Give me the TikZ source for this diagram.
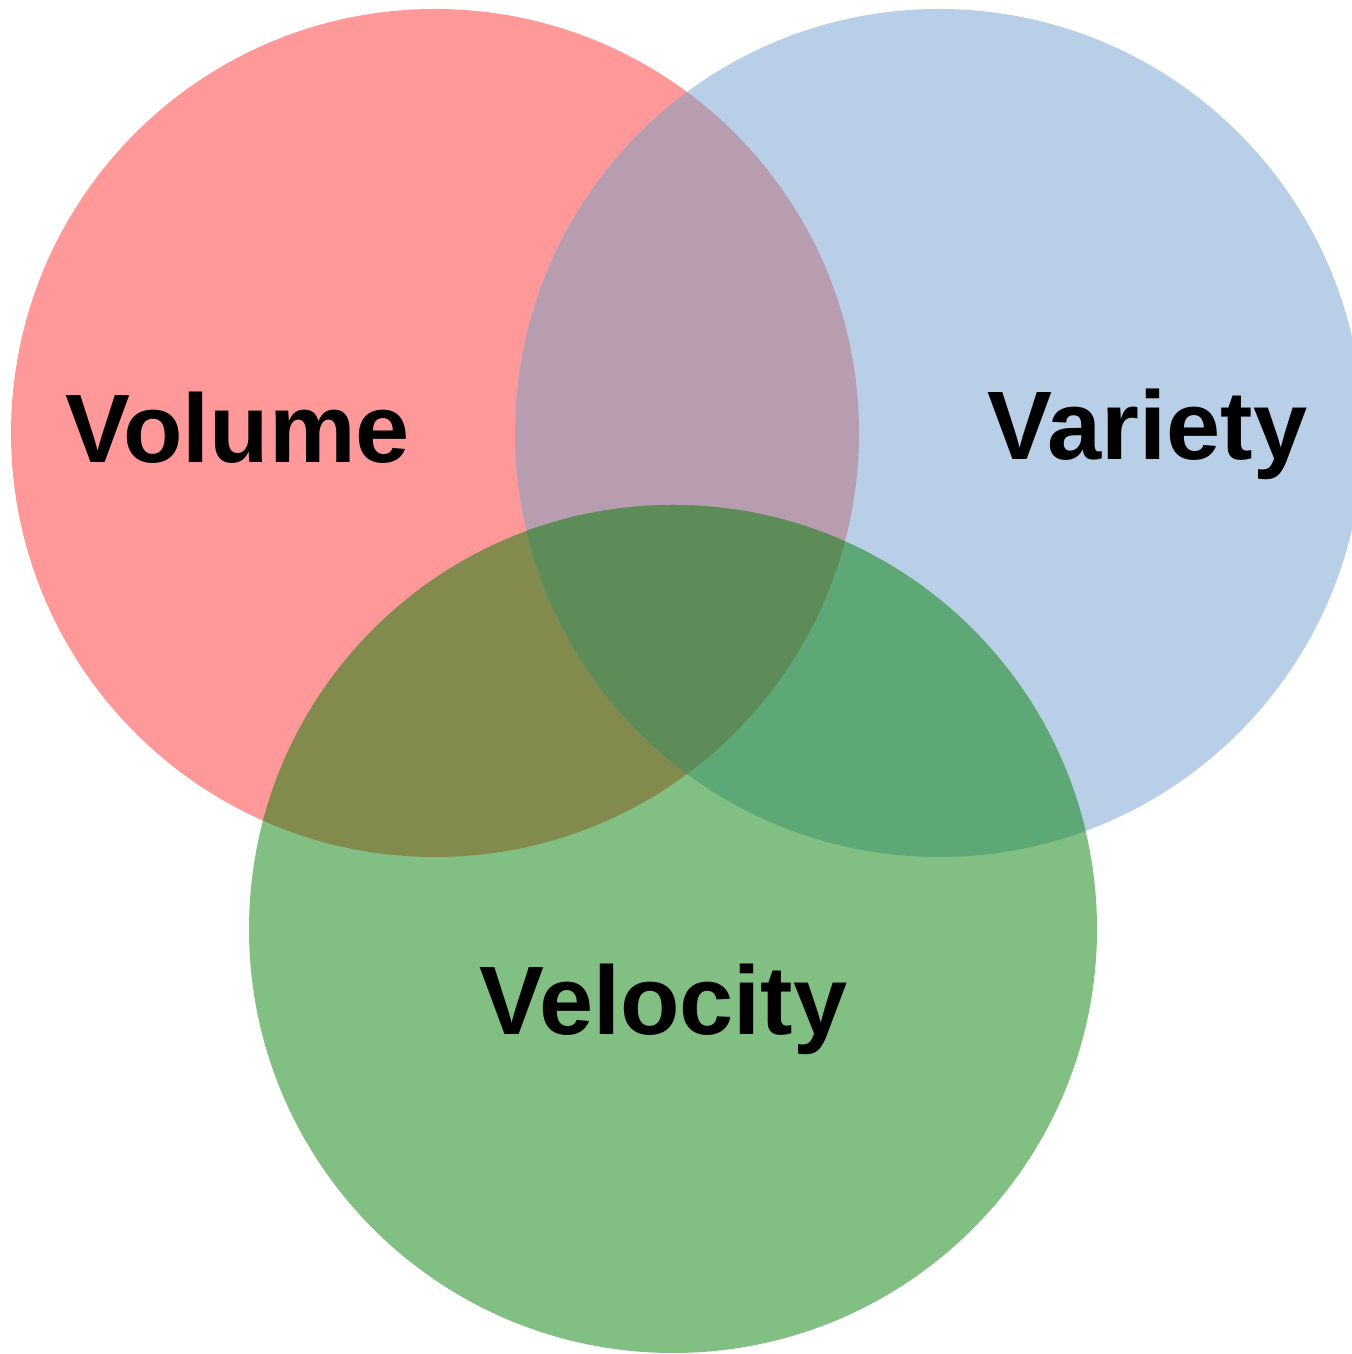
\documentclass[tikz,border=0pt]{standalone}
\usepackage{fontspec}
\setmainfont{Liberation Sans}
\definecolor{cR}{HTML}{FF9999}
\definecolor{cB}{HTML}{B8CFE7}
\definecolor{cG}{HTML}{82BF82}
\definecolor{cRB}{HTML}{B89CB0}
\definecolor{cRG}{HTML}{828A4E}
\definecolor{cBG}{HTML}{5EA877}
\definecolor{cRBG}{HTML}{5E8C58}
\tikzset{
  lbl/.style={anchor=base, font=\fontsize{27.7pt}{30pt}\selectfont\bfseries, text=black, inner sep=0pt}
}
\begin{document}
\begin{tikzpicture}
\useasboundingbox (0,0) rectangle (13.51,13.54);
\coordinate (R) at (4.35,9.21);
\coordinate (B) at (9.39,9.21);
\coordinate (G) at (6.73,4.25);
\def\rad{4.24}
% single regions
\fill[cR] (R) circle (\rad);
\fill[cB] (B) circle (\rad);
\fill[cG] (G) circle (\rad);
% pairwise
\begin{scope}
  \clip (R) circle (\rad);
  \fill[cRB] (B) circle (\rad);
\end{scope}
\begin{scope}
  \clip (R) circle (\rad);
  \fill[cRG] (G) circle (\rad);
\end{scope}
\begin{scope}
  \clip (B) circle (\rad);
  \fill[cBG] (G) circle (\rad);
\end{scope}
% triple
\begin{scope}
  \clip (R) circle (\rad);
  \clip (B) circle (\rad);
  \fill[cRBG] (G) circle (\rad);
\end{scope}
\node[lbl] (vol) at (2.375,8.91) {Volume};
\node[lbl] (var) at (11.475,8.94) {Variety};
\node[lbl] (vel) at (6.635,3.19) {Velocity};
\end{tikzpicture}
\end{document}
